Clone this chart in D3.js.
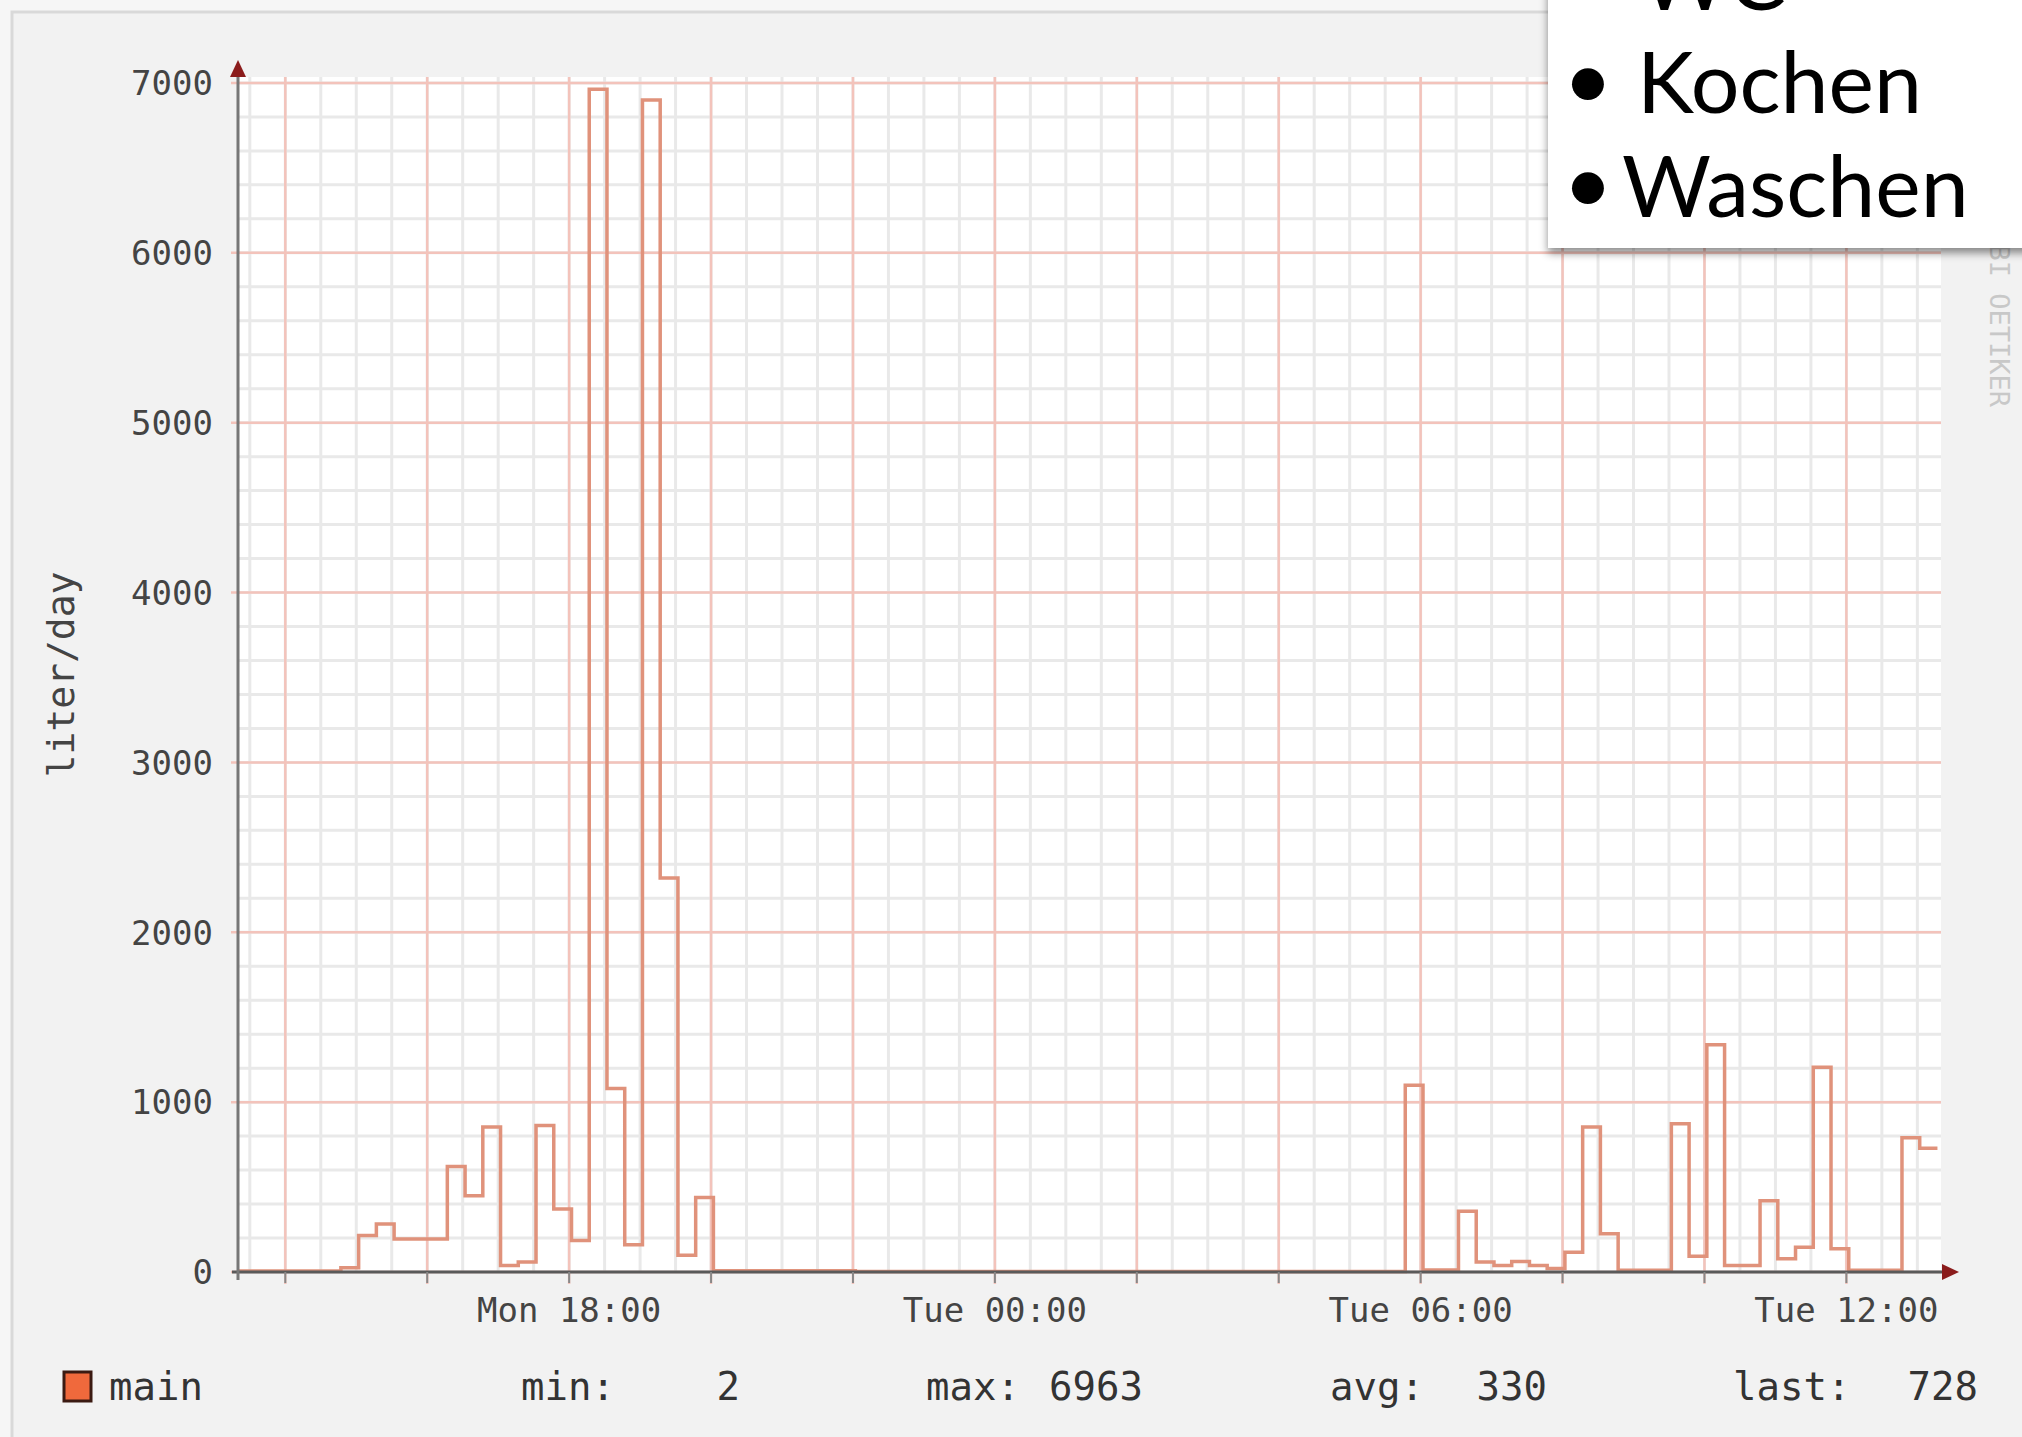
<!DOCTYPE html>
<html><head><meta charset="utf-8">
<script src="https://cdn.jsdelivr.net/npm/d3@7"></script>
<style>
body{margin:0;background:#f5f5f5;}
svg{display:block}
</style>
</head><body>
<svg id="chart" width="2022" height="1437"></svg>
<script>
// ---- data ----
const sampleTimes = ["Mon 13:20","Mon 14:47","Mon 15:02","Mon 15:17","Mon 15:32","Mon 16:17","Mon 16:32","Mon 16:47",
  "Mon 17:02","Mon 17:17","Mon 17:32","Mon 17:47","Mon 18:02","Mon 18:17","Mon 18:32","Mon 18:47","Mon 19:02",
  "Mon 19:17","Mon 19:32","Mon 19:47","Mon 20:02","Mon 22:02","Tue 05:47","Tue 06:02","Tue 06:32","Tue 06:47",
  "Tue 07:02","Tue 07:17","Tue 07:32","Tue 07:47","Tue 08:02","Tue 08:17","Tue 08:32","Tue 08:47","Tue 09:32",
  "Tue 09:47","Tue 10:02","Tue 10:17","Tue 10:47","Tue 11:02","Tue 11:17","Tue 11:32","Tue 11:47","Tue 12:02",
  "Tue 12:47","Tue 13:02","Tue 13:17"];
const sampleValues = [6,25,215,283,195,621,449,853,
  39,59,863,371,186,6963,1080,160,6900,
  2320,98,439,8,3,1100,12,357,59,
  39,62,39,20,117,853,225,10,873,
  92,1338,39,420,78,146,1205,137,10,
  791,728,728];
const rangeStart = "Mon 13:20";
const rangeEnd = "Tue 13:20";
const yTickValues = [0,1000,2000,3000,4000,5000,6000,7000];
const xTickLabels = ["Mon 18:00","Tue 00:00","Tue 06:00","Tue 12:00"];
const yAxisTitle = "liter/day";
const seriesName = "main";
const statLabels = ["min:","max:","avg:","last:"];
const statValues = [2,6963,330,728];
const watermark = "RRDTOOL / TOBI OETIKER";
const slideItems = ["WC","Kochen","Waschen"];

// ---- helpers ----
function parseT(s){
  const [d, hm] = s.split(" ");
  const [h, m] = hm.split(":").map(Number);
  return new Date(2010, 2, d === "Mon" ? 1 : 2, h, m);
}
const data = sampleTimes.map((t,i)=>({t:parseT(t), v:sampleValues[i]}));

const svg = d3.select("#chart");
const mono = "'DejaVu Sans Mono', monospace";

const plot = {left:238, right:1941, top:77, bottom:1272};
const x = d3.scaleTime().domain([parseT(rangeStart), parseT(rangeEnd)]).range([plot.left, plot.right]);
const y = d3.scaleLinear().domain([0, 7035]).range([plot.bottom, plot.top]);

// panel
svg.append("rect").attr("x",0).attr("y",0).attr("width",2022).attr("height",1437).attr("fill","#f6f6f6");
svg.append("rect").attr("x",12).attr("y",12).attr("width",2040).attr("height",1460)
  .attr("fill","#f2f2f2").attr("stroke","#d9d9d9").attr("stroke-width",3);

// canvas
svg.append("rect").attr("x",plot.left).attr("y",plot.top)
  .attr("width",plot.right-plot.left).attr("height",plot.bottom-plot.top).attr("fill","#ffffff");

const grid = svg.append("g");
// minor vertical grid (30 min)
const minorX = d3.timeMinute.every(30).range(x.domain()[0], x.domain()[1]);
grid.selectAll("line.mvx").data(minorX).join("line")
  .attr("x1",d=>x(d)).attr("x2",d=>x(d)).attr("y1",plot.top).attr("y2",plot.bottom)
  .attr("stroke","#e9e9e9").attr("stroke-width",3);
// minor horizontal grid (200)
const minorY = d3.range(0, 7001, 200);
grid.selectAll("line.mhy").data(minorY).join("line")
  .attr("x1",plot.left).attr("x2",plot.right).attr("y1",d=>y(d)).attr("y2",d=>y(d))
  .attr("stroke","#e9e9e9").attr("stroke-width",3);
// major vertical grid (2 h)
const majorX = d3.timeHour.every(2).range(x.domain()[0], x.domain()[1]);
grid.selectAll("line.Mvx").data(majorX).join("line")
  .attr("x1",d=>x(d)).attr("x2",d=>x(d)).attr("y1",plot.top).attr("y2",plot.bottom+12)
  .attr("stroke","#f3c3bb").attr("stroke-width",2.5);
// major horizontal grid (1000)
grid.selectAll("line.Mhy").data(yTickValues).join("line")
  .attr("x1",plot.left-7).attr("x2",plot.right).attr("y1",d=>y(d)).attr("y2",d=>y(d))
  .attr("stroke","#f3c3bb").attr("stroke-width",2.5);

// data line
const line = d3.line().x(d=>x(d.t)).y(d=>y(d.v)).curve(d3.curveStepAfter);
svg.append("path").datum(data).attr("d",line).attr("fill","none")
  .attr("stroke","#e0927b").attr("stroke-width",3.5).attr("stroke-linejoin","miter");

// axes
const ax = svg.append("g");
ax.append("line").attr("x1",plot.left-6).attr("x2",plot.right+4).attr("y1",y(0)).attr("y2",y(0))
  .attr("stroke","#5a5a5a").attr("stroke-width",3);
ax.append("line").attr("x1",plot.left).attr("x2",plot.left).attr("y1",plot.bottom+8).attr("y2",plot.top-2)
  .attr("stroke","#777").attr("stroke-width",3);
ax.selectAll("line.tk").data(majorX).join("line")
  .attr("x1",d=>x(d)).attr("x2",d=>x(d)).attr("y1",y(0)).attr("y2",y(0)+11)
  .attr("stroke","#888").attr("stroke-width",2);
// arrows
const yx = y(0);
ax.append("path").attr("d",`M${plot.right+1},${yx-8}L${plot.right+18},${yx}L${plot.right+1},${yx+8}Z`).attr("fill","#8b1c1c");
ax.append("path").attr("d",`M${plot.left-8},${plot.top}L${plot.left},${plot.top-17}L${plot.left+8},${plot.top}Z`).attr("fill","#8b1c1c");

// y tick labels
svg.append("g").selectAll("text").data(yTickValues).join("text")
  .attr("x",213).attr("y",d=>y(d)).attr("dy","0.36em").attr("text-anchor","end")
  .attr("font-family",mono).attr("font-size",34).attr("fill","#444").text(d=>d);
// x tick labels
svg.append("g").selectAll("text").data(xTickLabels).join("text")
  .attr("x",d=>x(parseT(d))).attr("y",1322).attr("text-anchor","middle")
  .attr("font-family",mono).attr("font-size",34).attr("fill","#444").text(d=>d);
// y title
svg.append("text").attr("transform",`translate(61,${(plot.top+plot.bottom)/2}) rotate(-90)`)
  .attr("text-anchor","middle").attr("dominant-baseline","central")
  .attr("font-family",mono).attr("font-size",38).attr("fill","#444").text(yAxisTitle);

// watermark
svg.append("text").attr("transform","translate(1999,407) rotate(90)")
  .attr("text-anchor","end").attr("dominant-baseline","central")
  .attr("font-family",mono).attr("font-size",27).attr("fill","#c8c8c8").text(watermark);

// legend
const lg = svg.append("g");
lg.append("rect").attr("x",64).attr("y",1372).attr("width",27).attr("height",29)
  .attr("fill","#f0693c").attr("stroke","#3b1a12").attr("stroke-width",3);
lg.append("text").attr("x",109).attr("y",1400).attr("font-family",mono).attr("font-size",39).attr("fill","#333").text(seriesName);
const statX = [521, 926, 1330, 1733];
const valX = [740, 1143, 1547, 1978];
statLabels.forEach((s,i)=>{
  lg.append("text").attr("x",statX[i]).attr("y",1400).attr("font-family",mono).attr("font-size",39).attr("fill","#333").text(s);
  lg.append("text").attr("x",valX[i]).attr("y",1400).attr("text-anchor","end").attr("font-family",mono).attr("font-size",39).attr("fill","#333").text(statValues[i]);
});

// slide overlay box
const defs = svg.append("defs");
const f = defs.append("filter").attr("id","shadow").attr("x","-10%").attr("y","-10%").attr("width","130%").attr("height","140%");
f.append("feDropShadow").attr("dx",0).attr("dy",5).attr("stdDeviation",4).attr("flood-color","#000").attr("flood-opacity",0.45);
svg.append("rect").attr("x",1548).attr("y",-40).attr("width",520).attr("height",288)
  .attr("fill","#ffffff").attr("filter","url(#shadow)");
const sans = "Lato, 'Open Sans', sans-serif";
const baselines = [10, 113, 217];
const textX = [1640, 1637, 1622];
slideItems.forEach((s,i)=>{
  svg.append("text").attr("x",1588).attr("y",baselines[i]-3).attr("text-anchor","middle")
    .attr("font-family",sans).attr("font-size",86).attr("fill","#000").text("\u2022");
  svg.append("text").attr("x",textX[i]).attr("y",baselines[i])
    .attr("font-family",sans).attr("font-size",86).attr("fill","#000").text(s);
});
</script>
</body></html>
